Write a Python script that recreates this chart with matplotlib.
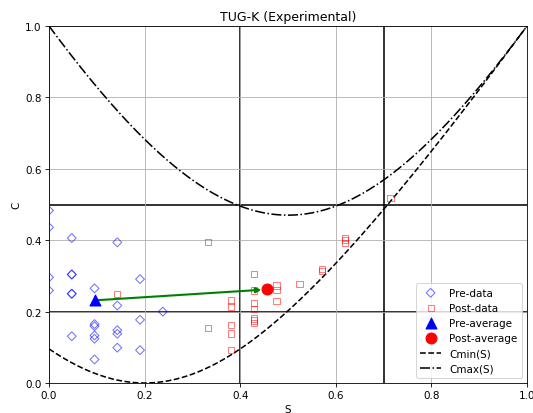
import numpy as np
import matplotlib
matplotlib.use("Agg")
import matplotlib.pyplot as plt

# Pre-test data (S = score fraction, C = concentration)
pre_S = [0, 0, 0, 0,
         1/21, 1/21, 1/21, 1/21, 1/21, 1/21,
         2/21, 2/21, 2/21, 2/21, 2/21, 2/21,
         3/21, 3/21, 3/21, 3/21, 3/21,
         4/21, 4/21, 4/21,
         5/21]
pre_C = [0.483, 0.436, 0.296, 0.259,
         0.406, 0.304, 0.304, 0.250, 0.250, 0.131,
         0.265, 0.165, 0.159, 0.133, 0.124, 0.066,
         0.394, 0.217, 0.148, 0.138, 0.099,
         0.291, 0.177, 0.092,
         0.200]

# Post-test data
post_S = [3/21,
          7/21, 7/21,
          8/21, 8/21, 8/21, 8/21, 8/21,
          9/21, 9/21, 9/21, 9/21, 9/21, 9/21, 9/21,
          10/21, 10/21, 10/21,
          11/21,
          12/21, 12/21,
          13/21, 13/21, 13/21,
          15/21]
post_C = [0.250,
          0.394, 0.155,
          0.231, 0.214, 0.162, 0.139, 0.092,
          0.305, 0.259, 0.224, 0.207, 0.181, 0.175, 0.168,
          0.273, 0.261, 0.229,
          0.278,
          0.320, 0.314,
          0.407, 0.401, 0.392,
          0.518]

n_choices = 5
tick_vals = [0.0, 0.2, 0.4, 0.6, 0.8, 1.0]
s_bounds = [0.4, 0.7]
c_bounds = [0.2, 0.5]


def conc(p2sum, m=n_choices):
    return np.sqrt(m) / (np.sqrt(m) - 1) * (np.sqrt(p2sum) - 1 / np.sqrt(m))


s = np.linspace(0, 1, 400)
cmin = conc(s**2 + (1 - s)**2 / (n_choices - 1))
cmax = conc(s**2 + (1 - s)**2)

pre_avg = (np.mean(pre_S), np.mean(pre_C))
post_avg = (np.mean(post_S), np.mean(post_C))

fig = plt.figure(figsize=(533/75, 414/75), dpi=75)
ax = fig.add_axes([49/533, 30/414, 478/533, 357/414])

ax.grid(True, color='#b0b0b0', lw=0.8, zorder=0)
for v in s_bounds:
    ax.axvline(v, color='black', lw=1.5, zorder=1)
for v in c_bounds:
    ax.axhline(v, color='black', lw=1.5, zorder=1)

ax.scatter(pre_S, pre_C, marker='D', facecolors='none', edgecolors='blue',
           alpha=0.55, s=36, label='Pre-data', zorder=3)
ax.scatter(post_S, post_C, marker='s', facecolors='none', edgecolors='red',
           alpha=0.5, s=36, label='Post-data', zorder=3)
ax.scatter([pre_avg[0]], [pre_avg[1]], marker='^', color='blue', s=110,
           label='Pre-average', zorder=5)
ax.scatter([post_avg[0]], [post_avg[1]], marker='o', color='red', s=110,
           label='Post-average', zorder=5)
ax.annotate('', xy=post_avg, xytext=pre_avg,
            arrowprops=dict(arrowstyle='-|>', color='green', lw=2,
                            mutation_scale=10, shrinkA=0, shrinkB=5),
            zorder=4)
ax.plot(s, cmin, 'k--', lw=1.5, label='Cmin(S)', zorder=2)
ax.plot(s, cmax, 'k-.', lw=1.5, label='Cmax(S)', zorder=2)

ax.set_xlim(0, 1)
ax.set_ylim(0, 1)
ax.set_xticks(tick_vals)
ax.set_yticks(tick_vals)
ax.tick_params(labelsize=10)
ax.set_xlabel('S', fontsize=10)
ax.set_ylabel('C', fontsize=10)
ax.set_title('TUG-K (Experimental)', fontsize=12)
ax.legend(loc='lower right', fontsize=10)

fig.savefig('out.png', dpi=75)
